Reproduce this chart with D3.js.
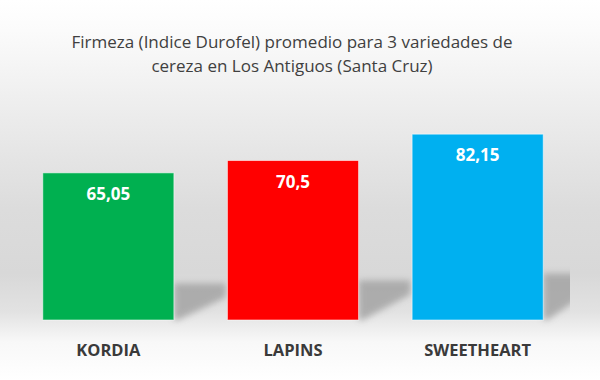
<!DOCTYPE html>
<html><head><meta charset="utf-8">
<script src="https://cdn.jsdelivr.net/npm/d3@7"></script>
<style>html,body{margin:0;padding:0;background:#fff;}svg{display:block;}</style>
</head><body>
<script>
const categories = ["KORDIA", "LAPINS", "SWEETHEART"];
const values = [65.05, 70.5, 82.15];
const valueLabels = ["65,05", "70,5", "82,15"];
const colors = ["#00B050", "#FF0000", "#00B0F0"];
const titleLines = ["Firmeza (Indice Durofel) promedio para 3 variedades de", "cereza en Los Antiguos (Santa Cruz)"];

const W = 600, H = 380;
const svg = d3.select("body").append("svg").attr("width", W).attr("height", H);
const defs = svg.append("defs");

const bg = defs.append("linearGradient").attr("id", "bg").attr("x1", 0).attr("y1", 0).attr("x2", 0).attr("y2", 1);
[[0, "#ffffff"], [0.08, "#fbfbfb"], [0.3, "#ececec"], [0.55, "#dcdcdc"], [0.72, "#d8d8d8"], [0.82, "#e2e2e2"], [0.9, "#f8f8f8"], [1, "#ffffff"]]
  .forEach(([o, c]) => bg.append("stop").attr("offset", o).attr("stop-color", c));
svg.append("rect").attr("width", W).attr("height", H).attr("fill", "url(#bg)");

const blur = defs.append("filter").attr("id", "blur").attr("x", "-20%").attr("y", "-20%").attr("width", "140%").attr("height", "140%");
blur.append("feGaussianBlur").attr("stdDeviation", 3);
defs.append("clipPath").attr("id", "plotclip").append("rect").attr("x", 16).attr("y", 0).attr("width", 554).attr("height", 330);

const x = d3.scaleBand().domain(categories).range([16, 570]).paddingInner(0.29).paddingOuter(0.145);
const y = d3.scaleLinear().domain([0, 90]).range([320, 116.4]);

// shadows
const shadowG = svg.append("g").attr("clip-path", "url(#plotclip)");
shadowG.selectAll("path").data(categories).join("path")
  .attr("d", (c, i) => {
    const R = x(c) + x.bandwidth();
    const b = y(0);
    const T = b - 0.25 * (b - y(values[i]));
    const w = 52;
    return `M${R},${T}L${R + w},${T}L${R + w},${T + 14}L${R + 4},${b}L${R},${b}Z`;
  })
  .attr("fill", "#a0a0a0").attr("opacity", 0.8).attr("filter", "url(#blur)");

// bars
svg.append("g").selectAll("rect").data(categories).join("rect")
  .attr("x", c => x(c)).attr("width", x.bandwidth())
  .attr("y", (c, i) => y(values[i])).attr("height", (c, i) => y(0) - y(values[i]))
  .attr("fill", (c, i) => colors[i])
  .attr("stroke", "#ffffff").attr("stroke-opacity", 0.55).attr("stroke-width", 1);

// value labels
svg.append("g").selectAll("text").data(categories).join("text")
  .attr("x", c => x(c) + x.bandwidth() / 2)
  .attr("y", (c, i) => y(values[i]) + 27)
  .attr("text-anchor", "middle")
  .attr("font-family", "'Open Sans', sans-serif").attr("font-weight", "bold").attr("font-size", 17)
  .attr("fill", "#ffffff")
  .text((c, i) => valueLabels[i]);

// category labels
svg.append("g").selectAll("text").data(categories).join("text")
  .attr("x", c => x(c) + x.bandwidth() / 2)
  .attr("y", 356)
  .attr("text-anchor", "middle")
  .attr("font-family", "'Open Sans', sans-serif").attr("font-weight", "bold").attr("font-size", 16.5)
  .attr("fill", "#3a3a3a")
  .text(c => c);

// title
svg.append("g").selectAll("text").data(titleLines).join("text")
  .attr("x", 292).attr("y", (d, i) => 48 + i * 24)
  .attr("text-anchor", "middle")
  .attr("font-family", "'Open Sans', sans-serif").attr("font-size", 17)
  .attr("fill", "#404040")
  .text(d => d);
</script>
</body></html>
